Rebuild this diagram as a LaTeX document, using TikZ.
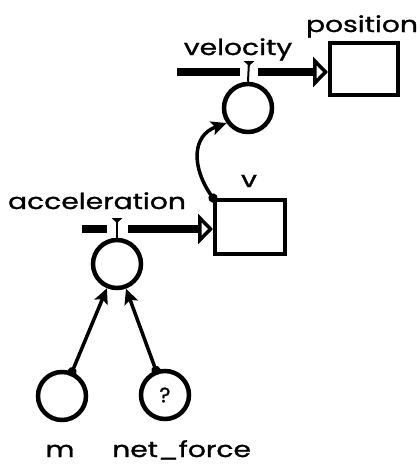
\documentclass[tikz,border=0pt]{standalone}
\usepackage{fontspec}
\setmainfont{Poppins}[FakeBold=1]
\usetikzlibrary{arrows.meta}
\tikzset{
  stock/.style={draw, line width=4pt, inner sep=0pt},
  conv/.style={draw, circle, line width=4.5pt, minimum size=48pt, inner sep=0pt, font=\fontsize{21}{24}\selectfont},
  lbl/.style={font=\fontsize{22}{26}\selectfont, xscale=1.28, inner sep=0pt, anchor=base},
  pipe/.style={line width=8pt},
  flow/.style={line width=8pt, -{Triangle[open, line width=3.5pt, length=15pt, width=30pt]}},
  valvestem/.style={line width=2pt},
  link/.style={line width=3.5pt, shorten <=-4.5pt, {Circle[length=9pt]}-{Stealth[length=15pt, width=14pt, inset=3pt]}}
}
\begin{document}
\begin{tikzpicture}[x=1pt, y=1pt]
\useasboundingbox (0,0) rectangle (420,-466);
% stocks
\node[stock, minimum width=68pt, minimum height=52pt] (position) at (364,-69) {};
\node[stock, minimum width=70pt, minimum height=54pt] (v) at (250,-227) {};
% converters
\node[conv] (velocity) at (248,-108) {};
\node[conv] (acceleration) at (117,-264) {};
\node[conv] (m) at (62,-396) {};
\node[conv] (net_force) at (165,-395) {?};
% labels
\node[lbl] (position_lbl) at (362,-32) {position};
\node[lbl] (velocity_lbl) at (238,-55) {velocity};
\node[lbl] (v_lbl) at (249,-187) {v};
\node[lbl] (acceleration_lbl) at (97,-209) {acceleration};
\node[lbl] (m_lbl) at (60,-457) {m};
\node[lbl, anchor=base west] (net_force_lbl) at (112,-457) {net\_force};
% flow velocity -> position
\coordinate (vsrc) at (177,-72);
\coordinate (vgapL) at (240,-72);
\coordinate (vgapR) at (258,-72);
\coordinate (vvalve) at (249,-61);
\draw[pipe] (vsrc) -- (vgapL);
\draw[flow] (vgapR) -- (vgapR -| position.west);
\fill (vvalve) ++(-5.5,0) -- ++(11,0) -- ++(-5.5,-5) -- cycle;
\draw[valvestem] (vvalve) -- (velocity.north);
% flow acceleration -> v
\coordinate (asrc) at (82,-229);
\coordinate (agapL) at (107,-229);
\coordinate (agapR) at (128,-229);
\coordinate (avalve) at (117,-218);
\draw[pipe] (asrc) -- (agapL);
\draw[flow] (agapR) -- (agapR -| v.west);
\fill (avalve) ++(-5.5,0) -- ++(11,0) -- ++(-5.5,-5) -- cycle;
\draw[valvestem] (avalve) -- (acceleration.north);
% links
\draw[link] (v.north west) to[out=125, in=200, looseness=1.25] (velocity.215);
\draw[link] (m) -- (acceleration);
\draw[link] (net_force) -- (acceleration);
\end{tikzpicture}
\end{document}
